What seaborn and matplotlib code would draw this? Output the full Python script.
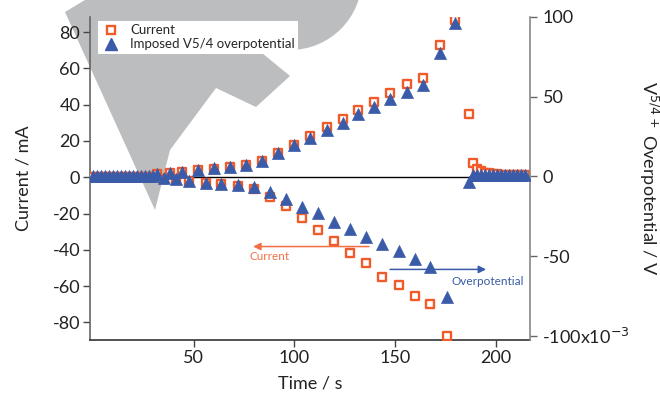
import numpy as np
import pandas as pd
import seaborn as sns
import matplotlib
matplotlib.use("Agg")
import matplotlib.pyplot as plt
from matplotlib.patches import Polygon, Circle
from matplotlib.lines import Line2D
from matplotlib.transforms import Affine2D

# ---------------- data ----------------
time = [0, 2, 4, 6, 8, 10, 12, 14, 16, 18, 20, 22, 24, 26, 28, 30,
        32.0, 35.3, 38.1, 41.1, 44.2, 47.8, 51.9, 55.9, 59.9, 63.8,
        67.9, 71.9, 76.0, 80.0, 83.9, 87.9, 92.1, 95.9, 99.9, 103.7,
        107.8, 111.6, 116.0, 119.9, 124.0, 127.6, 131.8, 135.6, 139.7, 143.7,
        147.6, 152.0, 155.9, 159.7, 163.7, 167.5, 172.3, 175.6, 179.7, 186.7,
        188.5, 190.5, 192.5, 194.5, 196.5, 198.5, 200.5, 202.5, 204.5, 206.5,
        208.5, 210.5, 212.5, 214.5]
current_mA = [0.4, 0.4, 0.4, 0.4, 0.4, 0.4, 0.4, 0.4, 0.4, 0.4, 0.4, 0.4, 0.4, 0.4, 0.4, 0.4,
              1.7, -0.8, 2.4, -1.1, 2.9, -2.0, 3.9, -3.1, 4.8, -3.9,
              5.7, -4.7, 6.6, -6.5, 8.8, -10.9, 13.1, -16.0, 17.7, -22.3,
              22.7, -28.9, 27.5, -35.4, 32.2, -41.8, 37.0, -47.3, 41.4, -55.1,
              46.2, -59.3, 51.4, -65.2, 54.7, -69.8, 72.9, -87.7, 86.4, 34.6,
              7.9, 4.8, 3.3, 2.6, 2.2, 1.9, 1.7, 1.5, 1.4, 1.3,
              1.2, 1.1, 1.0, 1.0]
overpot_mV = [0.3, 0.3, 0.3, 0.3, 0.3, 0.3, 0.3, 0.3, 0.3, 0.3, 0.3, 0.3, 0.3, 0.3, 0.3, 0.3,
              1.5, -1.2, 2.3, -1.6, 3.0, -2.7, 4.0, -3.9, 5.0, -4.5,
              6.0, -5.6, 7.1, -6.4, 9.7, -9.6, 14.5, -14.4, 19.7, -19.0,
              24.3, -23.1, 29.1, -28.4, 33.7, -33.0, 39.0, -37.8, 43.4, -42.6,
              48.4, -46.8, 52.8, -52.0, 57.4, -56.6, 77.2, -75.8, 96.5, -3.3,
              0.6, 0.6, 0.6, 0.6, 0.6, 0.6, 0.6, 0.6, 0.6, 0.6,
              0.6, 0.6, 0.6, 0.6]

left_ticks = [-80, -60, -40, -20, 0, 20, 40, 60, 80]
right_ticks = [-100, -50, 0, 50, 100]
right_ticklabels = ["-100x10$^{-3}$", "-50", "0", "50", "100"]
x_ticks = [50, 100, 150, 200]

df = pd.DataFrame({"time": time, "current": current_mA, "overpot": overpot_mV})

# ---------------- style ----------------
sns.set_style("ticks")
plt.rcParams["font.family"] = ["Lato", "DejaVu Sans"]
plt.rcParams["axes.unicode_minus"] = False

ORANGE = "#f15a29"
BLUE = "#3a5ba8"
GREY = "#bcbdbf"

W, H = 660, 396
fig = plt.figure(figsize=(6.6, 3.96), dpi=100)

def fx(px):
    return px / W

def fy(py):
    return 1 - py / H

# watermark drawn in pixel space (y measured from the top)
pix = Affine2D().scale(1, -1).translate(0, H)
wm_pts = [(85, 0), (65, 12), (155, 210), (170, 150), (216, 88), (256, 107),
          (290, 76), (262, 53), (255, 0)]
fig.add_artist(Polygon(wm_pts, closed=True, transform=pix,
                       facecolor=GREY, edgecolor="none", zorder=-5))
fig.add_artist(Circle((290, -22), 72, transform=pix,
                      facecolor=GREY, edgecolor="none", zorder=-5))

ax = fig.add_axes([fx(90), fy(340), fx(440), (340 - 17) / H])
ax.patch.set_alpha(0)
ax2 = ax.twinx()
ax2.patch.set_alpha(0)

ax.axhline(0, color="black", lw=1.0, zorder=1)

sns.scatterplot(data=df, x="time", y="current", ax=ax, marker="s", s=34,
                facecolor="white", edgecolor=ORANGE, linewidth=1.7, zorder=3, legend=False)
sns.scatterplot(data=df, x="time", y="overpot", ax=ax2, marker="^", s=75,
                color=BLUE, edgecolor=BLUE, linewidth=0.5, zorder=3, legend=False)

ax.set_xlim(-1.5, 217)
ax.set_ylim(-89.7, 88.3)
ax2.set_ylim(-102.7, 100)

ax.set_xticks(x_ticks)
ax.set_yticks(left_ticks)
ax2.set_yticks(right_ticks)
ax2.set_yticklabels(right_ticklabels)

for a in (ax, ax2):
    a.spines["top"].set_visible(False)
ax.spines["right"].set_visible(False)
ax2.spines["left"].set_visible(False)
ax2.spines["bottom"].set_visible(False)
ax.spines["left"].set_color("#666666")
ax.spines["bottom"].set_color("#333333")
ax2.spines["right"].set_color("#888888")
for s in ("left", "bottom"):
    ax.spines[s].set_linewidth(1.2)
ax2.spines["right"].set_linewidth(1.2)

ax.tick_params(axis="both", length=5, width=1, color="#444444", labelsize=13, pad=2,
               labelcolor="#222222")
ax2.tick_params(axis="y", length=5, width=1, color="#666666", labelsize=13, pad=4,
                labelcolor="#222222")

ax.set_xlabel("Time / s", fontsize=13, color="#222222", labelpad=7)
ax.set_ylabel("Current / mA", fontsize=13, color="#222222")
ax.yaxis.set_label_coords(-0.132, 0.5)
ax2.set_ylabel("V$^{5/4+}$ Overpotential / V", fontsize=13, color="#222222", rotation=270)
ax2.yaxis.set_label_coords(1.295, 0.5)

# annotation arrows
ax.annotate("", xy=(79.5, -38.2), xytext=(137, -38.2),
            arrowprops=dict(arrowstyle="-|>", color="#f26f43", lw=1.1, mutation_scale=11,
                            shrinkA=0, shrinkB=0))
ax.text(87.5, -43.8, "Current", color="#f26f43", fontsize=8.5, ha="center", va="center")
ax.annotate("", xy=(195.2, -50.8), xytext=(147.5, -50.8),
            arrowprops=dict(arrowstyle="-|>", color=BLUE, lw=1.1, mutation_scale=11,
                            shrinkA=0, shrinkB=0))
ax.text(177.8, -57.2, "Overpotential", color=BLUE, fontsize=8.5, ha="left", va="center")

handles = [Line2D([], [], ls="none", marker="s", ms=5.8, mfc="white", mec=ORANGE, mew=1.7),
           Line2D([], [], ls="none", marker="^", ms=8.5, mfc=BLUE, mec=BLUE)]
leg = ax2.legend(handles, ["Current", "Imposed V5/4 overpotential"],
                 loc="upper left", bbox_to_anchor=(fx(98), fy(21)),
                 bbox_transform=fig.transFigure, frameon=True, fontsize=9.5,
                 borderpad=0.25, handlelength=1.4, handletextpad=0.8, labelspacing=0.15,
                 borderaxespad=0, fancybox=False)
leg.get_frame().set_facecolor("white")
leg.get_frame().set_edgecolor("none")
leg.get_frame().set_alpha(1)

fig.savefig("out.png", dpi=100)
